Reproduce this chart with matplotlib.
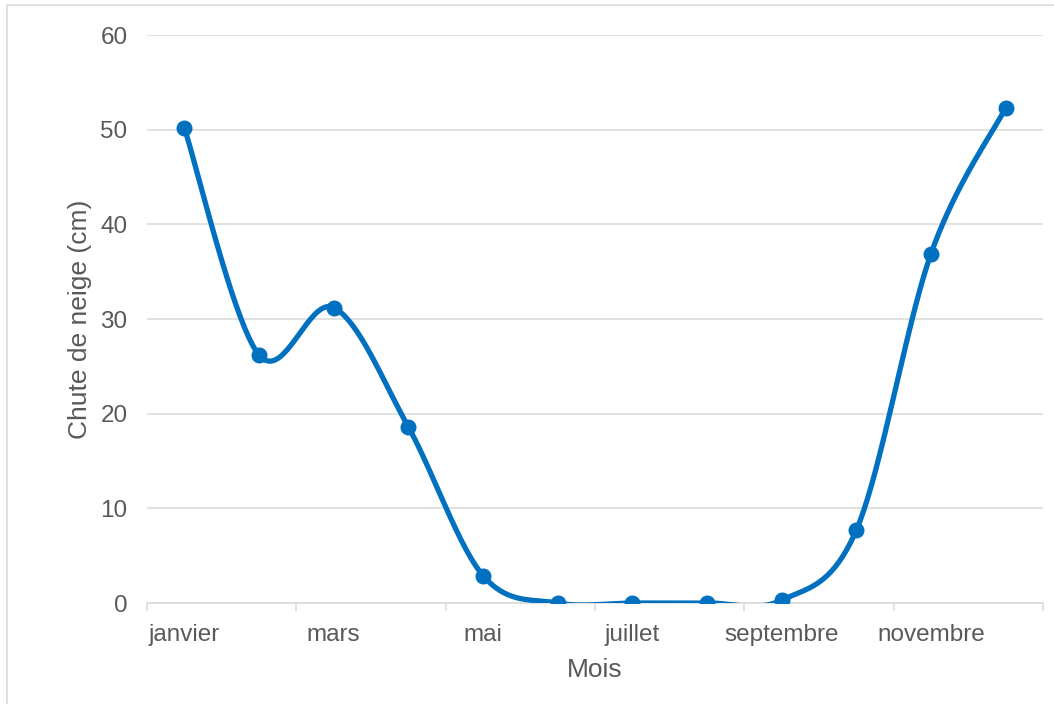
import matplotlib.pyplot as plt
import numpy as np
from matplotlib.patches import Rectangle

plt.rcParams['font.family'] = ['Liberation Sans', 'DejaVu Sans']

mois = ['janvier', 'février', 'mars', 'avril', 'mai', 'juin',
        'juillet', 'août', 'septembre', 'octobre', 'novembre', 'décembre']
neige = [50.2, 26.2, 31.2, 18.6, 2.9, 0.0, 0.0, 0.0, 0.3, 7.7, 36.9, 52.3]

grey = '#595959'
blue = '#0070C0'

# Smoothed line (Catmull-Rom through each point, like a spreadsheet smoothed line)
def smooth(xs, ys, n=40):
    p = np.column_stack([xs, ys]).astype(float)
    p = np.vstack([p[0], p, p[-1]])
    out = []
    for i in range(1, len(p) - 2):
        p0, p1, p2, p3 = p[i - 1], p[i], p[i + 1], p[i + 2]
        c1 = p1 + (p2 - p0) / 6
        c2 = p2 - (p3 - p1) / 6
        t = np.linspace(0, 1, n)[:, None]
        seg = (1 - t)**3 * p1 + 3 * (1 - t)**2 * t * c1 + 3 * (1 - t) * t**2 * c2 + t**3 * p2
        out.append(seg)
    out = np.vstack(out)
    return out[:, 0], out[:, 1]

x = np.arange(len(mois))
sx, sy = smooth(x, neige)

fig = plt.figure(figsize=(10.54, 7.04), dpi=100)
ax = fig.add_axes([147 / 1054, 1 - 603 / 704, (1043 - 147) / 1054, (603 - 35) / 704])

ax.plot(sx, sy, color=blue, lw=3.8, solid_capstyle='round', zorder=3)
ax.plot(x, neige, 'o', color=blue, ms=10.5, zorder=4)

ax.set_xlim(-0.5, 11.5)
ax.set_ylim(0, 60)
ax.set_yticks(range(0, 61, 10))
ax.grid(axis='y', color='#D9D9D9', lw=1.1)
ax.set_axisbelow(True)

ax.set_xticks(x[::2])
ax.set_xticklabels(mois[::2])
ax.set_xticks(np.arange(-0.5, 12, 2), minor=True)
ax.tick_params(axis='x', which='major', length=0, pad=15, labelsize=17.5, labelcolor=grey)
ax.tick_params(axis='x', which='minor', length=6, width=1.1, color='#D9D9D9')
ax.tick_params(axis='y', length=0, pad=14, labelsize=17.5, labelcolor=grey)

for s in ['top', 'right', 'left']:
    ax.spines[s].set_visible(False)
ax.spines['bottom'].set_color('#D9D9D9')
ax.spines['bottom'].set_linewidth(1.1)

ax.set_xlabel('Mois', fontsize=19, color=grey, labelpad=9)
ax.set_ylabel('Chute de neige (cm)', fontsize=19, color=grey, labelpad=6)

# chart border
fig.patches.append(Rectangle((7 / 1054, -0.1), 1.2, 1 - 5 / 704 + 0.1,
                             transform=fig.transFigure, fill=False,
                             edgecolor='#D9D9D9', lw=1.1))

fig.savefig('out.png', dpi=100)
